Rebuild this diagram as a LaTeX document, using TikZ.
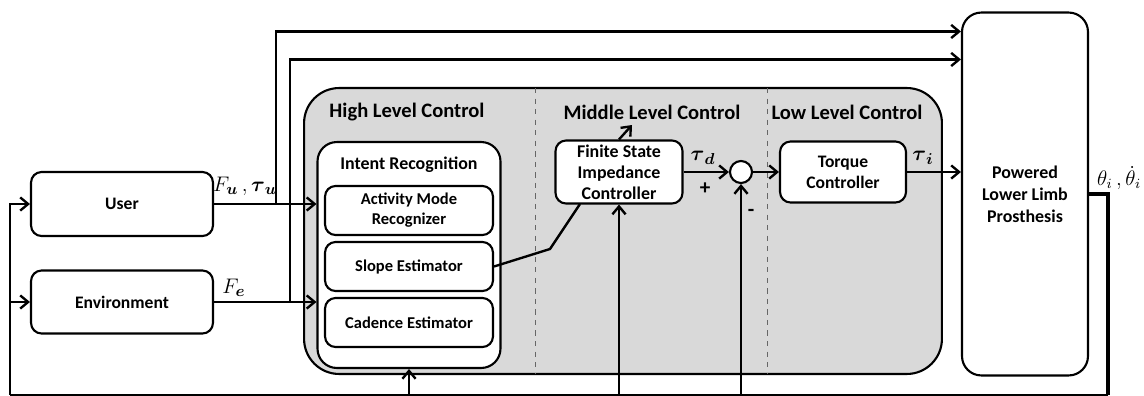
\documentclass[tikz,border=0pt]{standalone}
\usepackage{amsmath}
\usepackage{fontspec}
\setmainfont{Carlito}
\usetikzlibrary{arrows.meta,calc}
\begin{document}
\begin{tikzpicture}[x=0.02cm,y=-0.02cm,
  ln/.style={line width=1.35pt},
  arr/.style={line width=1.35pt,-{Straight Barb[length=4.5pt,width=7.5pt]}},
  box/.style={draw,line width=1.2pt,rounded corners=6pt,fill=white,align=center,inner sep=0pt,
    font=\bfseries\fontsize{10}{12}\selectfont},
  sbox/.style={box,font=\bfseries\fontsize{9.4}{11.4}\selectfont},
  hdr/.style={font=\bfseries\fontsize{11.7}{13}\selectfont,inner sep=0pt},
  lbl/.style={inner sep=0pt,font=\fontsize{12.5}{14}\selectfont}]
\useasboundingbox (0,0) rectangle (1144,396);

% big control container
\node[draw,line width=1.2pt,fill=gray!30,rounded corners=20pt,minimum width=12.76cm,minimum height=5.72cm,inner sep=0pt] (hlc) at (623,231) {};
\draw[dashed,line width=0.4pt,black!60] (535,88) -- (535,374);
\draw[dashed,line width=0.4pt,black!60] (767,88) -- (767,374);
\node[hdr] (h1) at (407,112) {High Level Control};
\node[hdr] (h2) at (652,112) {Middle Level Control};
\node[hdr] (h3) at (847,112) {Low Level Control};

% blocks
\node[box,minimum width=3.64cm,minimum height=1.28cm] (user) at (122,204) {User};
\node[box,minimum width=3.64cm,minimum height=1.26cm] (env) at (122,302) {Environment};
\node[box,rounded corners=11pt,minimum width=3.66cm,minimum height=4.52cm] (intent) at (409,255) {};
\node[font=\bfseries\fontsize{10.2}{12}\selectfont,inner sep=0pt] (intentl) at (409,165) {Intent Recognition};
\node[sbox,minimum width=3.36cm,minimum height=0.98cm] (act) at (409,210.5) {Activity Mode\\Recognizer};
\node[sbox,minimum width=3.36cm,minimum height=0.98cm] (slope) at (409,266.5) {Slope Estimator};
\node[sbox,minimum width=3.36cm,minimum height=0.98cm] (cad) at (409,322.5) {Cadence Estimator};
\node[box,font=\bfseries\fontsize{10.2}{12}\selectfont,minimum width=2.54cm,minimum height=1.26cm] (fsic) at (619,172) {Finite State\\Impedance\\Controller};
\node[draw,line width=1.2pt,fill=white,circle,minimum size=0.44cm,inner sep=0pt] (sum) at (741,172) {};
\node[box,minimum width=2.52cm,minimum height=1.22cm] (torque) at (843,172) {Torque\\Controller};
\node[box,font=\bfseries\fontsize{10.2}{12.5}\selectfont,rounded corners=11pt,minimum width=2.52cm,minimum height=7.26cm] (pros) at (1025,194) {Powered\\Lower Limb\\Prosthesis};

% coordinates
\coordinate (j1) at (276,204);
\coordinate (j2) at (290,302);
\coordinate (fbR) at (1108,395);
\coordinate (fbL) at (10,395);
\coordinate (bend) at (550,249);
\coordinate (fsicin) at (580,204);
\coordinate (stray) at (632,125);

% connectors
\draw[arr] (user.east) -- (user.east -| intent.west);
\draw[arr] (env.east) -- (env.east -| intent.west);
\draw[arr] (j1) |- ([yshift=-0.4cm]pros.north west);
\draw[arr] (j2) |- ([yshift=-0.96cm]pros.north west);
\draw[ln] (slope.east) -- (bend) -- (fsicin);
\draw[arr] (fsic.north) -- (stray);
\draw[arr] (fsic.east) -- (sum.west);
\draw[arr] (sum.east) -- (torque.west);
\draw[arr] (torque.east) -- (torque.east -| pros.west);
\draw[line width=1.8pt] (pros.east) -| (fbR);
\draw[ln] (fbR) -- (fbL);
\draw[arr] (fbL) |- (user.west);
\draw[arr] (fbL |- env.west) -- (env.west);
\draw[arr] (intent.south |- fbL) -- (intent.south);
\draw[arr] (fsic.south |- fbL) -- (fsic.south);
\draw[arr] (sum.south |- fbL) -- (sum.south);

% labels
\node[lbl] (lu) at (245,186) {$F_{\boldsymbol u}\,,\boldsymbol\tau_{\boldsymbol u}$};
\node[lbl] (le) at (234,288) {$F_{\boldsymbol e}$};
\node[lbl] (ld) at (703,158) {$\boldsymbol\tau_{\boldsymbol d}$};
\node[lbl] (li) at (923,158) {$\boldsymbol\tau_{\boldsymbol i}$};
\node[inner sep=0pt,font=\bfseries\fontsize{12}{14}\selectfont] (lp) at (705,189) {+};
\node[inner sep=0pt,font=\bfseries\fontsize{12}{14}\selectfont] (lm) at (751,213) {-};
\node[lbl,font=\fontsize{12}{14}\selectfont] (lt) at (1119,178) {$\theta_i\,,\dot\theta_i$};
\end{tikzpicture}
\end{document}
